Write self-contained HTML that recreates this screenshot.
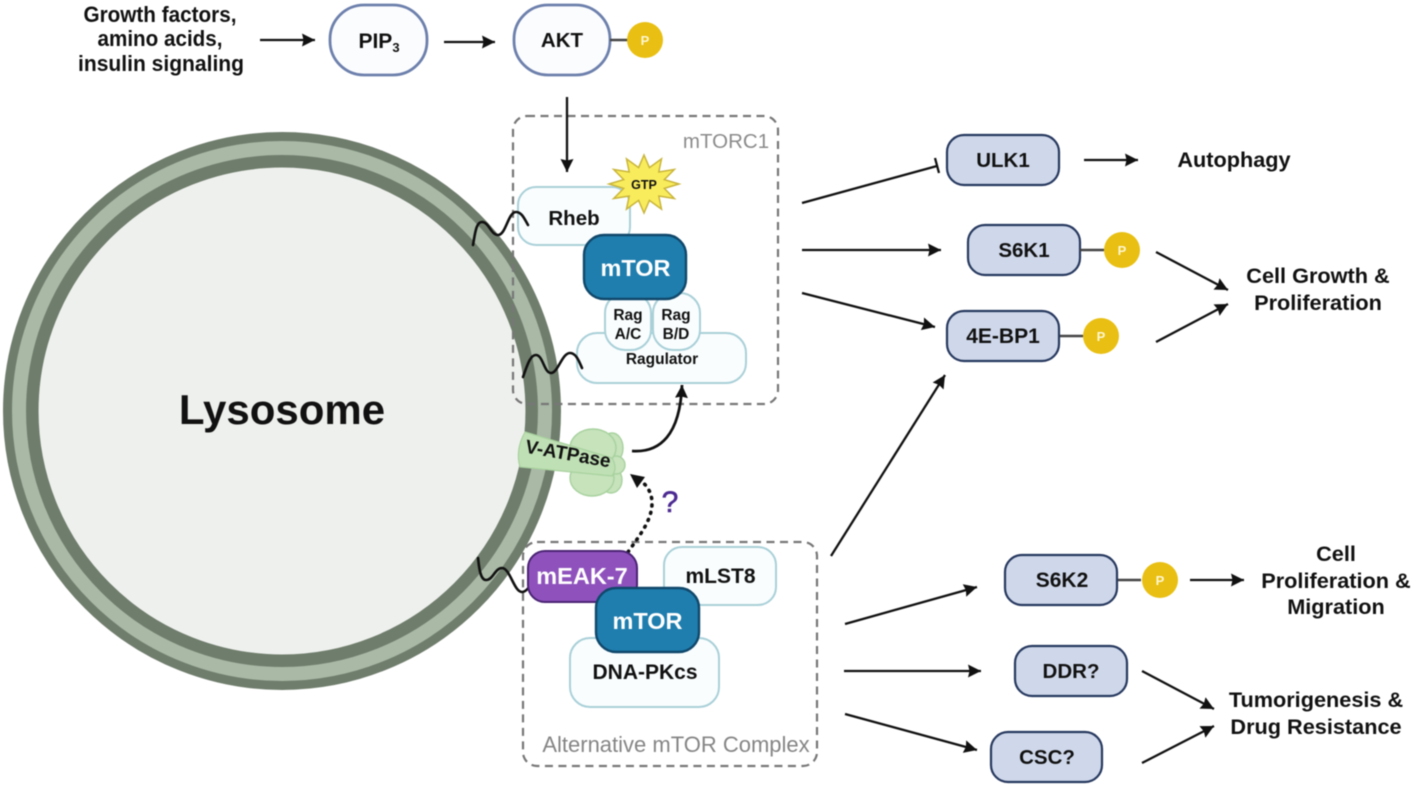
<!DOCTYPE html>
<html><head><meta charset="utf-8"><style>
html,body{margin:0;padding:0;background:#fff;width:1417px;height:791px;overflow:hidden}
svg{display:block;filter:blur(.55px)}
text{font-family:"Liberation Sans",sans-serif;font-weight:bold;fill:#111;text-anchor:middle}
.k{fill:#cfd8ea;stroke:#27395f;stroke-width:2.2}
.w{fill:#f9fdfe;stroke:#a9d0d8;stroke-width:2}
.m{fill:#1f7eae;stroke:#10486b;stroke-width:2.4}
.a{fill:none;stroke:#111;stroke-width:2.3}
.d{fill:none;stroke:#777;stroke-width:2.2;stroke-dasharray:8 5.5}
.p{fill:#e8bf12}
.l{stroke:#444;stroke-width:2.4}
.pt{fill:#fff6d0;font-size:13px}
.s{fill:none;stroke:#111;stroke-width:2.6;stroke-linecap:round}
.b{font-size:21.7px}
</style></head><body>
<svg width="1417" height="791" viewBox="0 0 1417 791" xmlns="http://www.w3.org/2000/svg">
<defs><marker id="h" markerUnits="userSpaceOnUse" markerWidth="15" markerHeight="14" refX="13" refY="6.5" orient="auto"><path d="M0 0L13 6.5L0 13L1.5 6.5z" fill="#111"/></marker></defs>

<!-- Lysosome -->
<circle cx="282" cy="411" r="274.5" fill="#a9b9a6" stroke="#6f7d6c" stroke-width="9"/>
<circle cx="282" cy="411" r="249.7" fill="#eef0ed" stroke="#6f7d6c" stroke-width="12.5"/>
<text x="282" y="424" font-size="42">Lysosome</text>

<!-- Dashed complexes -->
<rect x="513" y="116" width="265" height="288" rx="14" class="d"/>
<rect x="523" y="542" width="294" height="224" rx="14" class="d"/>
<text x="726" y="148" font-size="20.5" style="fill:#8b8b8b;font-weight:normal">mTORC1</text>
<text x="676" y="752" font-size="22" style="fill:#858585;font-weight:normal">Alternative mTOR Complex</text>

<!-- Top row -->
<text x="160" y="22" font-size="22" textLength="153" lengthAdjust="spacingAndGlyphs">Growth factors,</text>
<text x="160" y="46" font-size="22" textLength="125" lengthAdjust="spacingAndGlyphs">amino acids,</text>
<text x="161" y="71" font-size="22" textLength="166" lengthAdjust="spacingAndGlyphs">insulin signaling</text>
<path d="M260 40H315" class="a" marker-end="url(#h)"/>
<rect x="330" y="5" width="97" height="70" rx="34" fill="#fbfcfe" stroke="#6d80ac" stroke-width="2.8"/>
<text x="379" y="48" font-size="21">PIP<tspan font-size="13" dy="4">3</tspan></text>
<path d="M444 42H495" class="a" marker-end="url(#h)"/>
<rect x="514" y="5" width="96" height="70" rx="34" fill="#fbfcfe" stroke="#6d80ac" stroke-width="2.8"/>
<text x="562" y="47" font-size="20.5">AKT</text>
<path d="M610 40H628" class="l"/>
<circle cx="645" cy="40" r="18" class="p"/><text x="645" y="45" class="pt">P</text>
<path d="M567 97V172" class="a" marker-end="url(#h)"/>

<!-- mTORC1 -->
<rect x="518" y="187" width="112" height="58" rx="18" class="w"/>
<text x="574" y="225" font-size="20.5">Rheb</text>
<rect x="577" y="333" width="169" height="50" rx="20" class="w"/>
<rect x="605" y="293" width="46" height="57" rx="20" class="w"/>
<rect x="653" y="293" width="47" height="57" rx="20" class="w"/>
<text x="628" y="320" font-size="15.5">Rag</text><text x="628" y="339" font-size="15.5">A/C</text>
<text x="676" y="320" font-size="15.5">Rag</text><text x="676" y="339" font-size="15.5">B/D</text>
<text x="662" y="364" font-size="15.5">Ragulator</text>
<rect x="584" y="235" width="102" height="64" rx="20" class="m"/>
<text x="635.5" y="276" font-size="23.5" style="fill:#fff">mTOR</text>
<polygon points="644,155 649.4,167.6 661.5,158.9 658.8,172 674.3,169.5 664.3,179.6 679,184 664.3,188.4 674.3,198.5 658.8,196 661.5,209.1 649.4,200.4 644,213 638.6,200.4 626.5,209.1 629.2,196 613.7,198.5 623.7,188.4 609,184 623.7,179.6 613.7,169.5 629.2,172 626.5,158.9 638.6,167.6" fill="#f9ec5c" stroke="#c9b53a" stroke-width="1.5"/>
<text x="644" y="189" font-size="12.5">GTP</text>

<!-- anchors -->
<path d="M473 245C475 234 476 222 482 222C489 222 491 235 498 235C506 235 508 212 516 212C522 212 525 220 528 225" class="s"/>
<path d="M523 377C527 366 530 355 536 355C543 355 544 373 551 373C558 373 562 353 570 353C576 353 579 361 582 368" class="s"/>
<path d="M478 558C479 566 480 580 486 580C493 580 495 568 502 568C510 568 514 592 522 592C527 592 531 584 536 578" class="s"/>

<!-- V-ATPase -->
<g fill="#c6e3bc" stroke="#a8d19e" stroke-width="1.4">
<ellipse cx="612" cy="448" rx="11" ry="15"/>
<ellipse cx="611" cy="480" rx="11" ry="13"/>
<circle cx="616" cy="465" r="9"/>
<ellipse cx="593" cy="448" rx="23" ry="19"/>
<ellipse cx="592" cy="478" rx="22" ry="18"/>
</g>
<path d="M525 432L612 458Q618 468 612 476L520 467Q515 450 525 432Z" fill="#bfe0b4" stroke="#a8d19e" stroke-width="1.2"/>
<text x="567" y="460" font-size="19" transform="rotate(10 567 460)">V-ATPase</text>
<path d="M632 451C660 453 680 435 682 385" class="a" style="stroke-width:2.8" marker-end="url(#h)"/>
<path d="M628 552C640 535 652 520 652 503C652 491 645 483 638 479" fill="none" stroke="#111" stroke-width="3.6" stroke-dasharray="1 6.5" stroke-linecap="round"/>
<path d="M630 474L645 477L637 488Z" fill="#111"/>
<text x="670" y="512" font-size="30" stroke="#4c2a92" stroke-width=".6" style="fill:#4c2a92;font-weight:normal">?</text>

<!-- Alternative complex -->
<rect x="664" y="547" width="112" height="58" rx="18" class="w"/>
<text x="720.5" y="583" font-size="21">mLST8</text>
<rect x="528" y="551" width="109" height="51" rx="17" fill="#8f52bd" stroke="#4a2373" stroke-width="2"/>
<text x="582" y="584" font-size="23.5" style="fill:#fff">mEAK-7</text>
<rect x="570" y="638" width="149" height="69" rx="20" class="w"/>
<text x="645" y="679" font-size="21">DNA-PKcs</text>
<rect x="596" y="588" width="103" height="64" rx="20" class="m"/>
<text x="647.5" y="629" font-size="23.5" style="fill:#fff">mTOR</text>

<!-- Right: mTORC1 outputs -->
<path d="M802 203L937 166" class="a"/><path d="M935 158L939 173" fill="none" stroke="#111" stroke-width="2.3"/>
<path d="M802 250H941" class="a" marker-end="url(#h)"/>
<path d="M802 293L935 327" class="a" marker-end="url(#h)"/>
<path d="M831 556L945 375" class="a" marker-end="url(#h)"/>

<rect x="947" y="135" width="112" height="50" rx="17" class="k"/><text x="1003" y="167" font-size="20.5">ULK1</text>
<path d="M1084 160H1138" class="a" marker-end="url(#h)"/>
<text x="1234" y="167" class="b">Autophagy</text>

<rect x="968" y="225" width="112" height="50" rx="17" class="k"/><text x="1024" y="257" font-size="20.5">S6K1</text>
<path d="M1080 250H1104" class="l"/><circle cx="1122" cy="250" r="18" class="p"/><text x="1122" y="255" class="pt">P</text>

<rect x="947" y="311" width="112" height="50" rx="17" class="k"/><text x="1003" y="343" font-size="21">4E-BP1</text>
<path d="M1060 336H1083" class="l"/><circle cx="1101" cy="336" r="18" class="p"/><text x="1101" y="341" class="pt">P</text>

<path d="M1156 252L1228 290" class="a" marker-end="url(#h)"/>
<path d="M1156 342L1228 304" class="a" marker-end="url(#h)"/>
<text x="1318" y="283" class="b">Cell Growth &amp;</text>
<text x="1318" y="310" class="b">Proliferation</text>

<!-- Right: alternative outputs -->
<path d="M845 624L977 587" class="a" marker-end="url(#h)"/>
<path d="M844 671H981" class="a" marker-end="url(#h)"/>
<path d="M845 714L977 750" class="a" marker-end="url(#h)"/>

<rect x="1005" y="555" width="112" height="50" rx="17" class="k"/><text x="1062" y="587" font-size="21">S6K2</text>
<path d="M1118 580H1141" class="l"/><circle cx="1160" cy="580" r="18" class="p"/><text x="1160" y="585" class="pt">P</text>
<path d="M1190 580H1244" class="a" marker-end="url(#h)"/>
<text x="1336" y="561" class="b">Cell</text>
<text x="1336" y="588" class="b">Proliferation &amp;</text>
<text x="1336" y="614" class="b">Migration</text>

<rect x="1015" y="646" width="112" height="50" rx="17" class="k"/><text x="1071" y="678" font-size="20.5">DDR?</text>
<rect x="991" y="732" width="111" height="50" rx="17" class="k"/><text x="1047" y="764" font-size="20.5">CSC?</text>
<path d="M1142 671L1214 709" class="a" marker-end="url(#h)"/>
<path d="M1142 763L1214 726" class="a" marker-end="url(#h)"/>
<text x="1316" y="707" class="b">Tumorigenesis &amp;</text>
<text x="1316" y="734" class="b">Drug Resistance</text>
</svg>
</body></html>
